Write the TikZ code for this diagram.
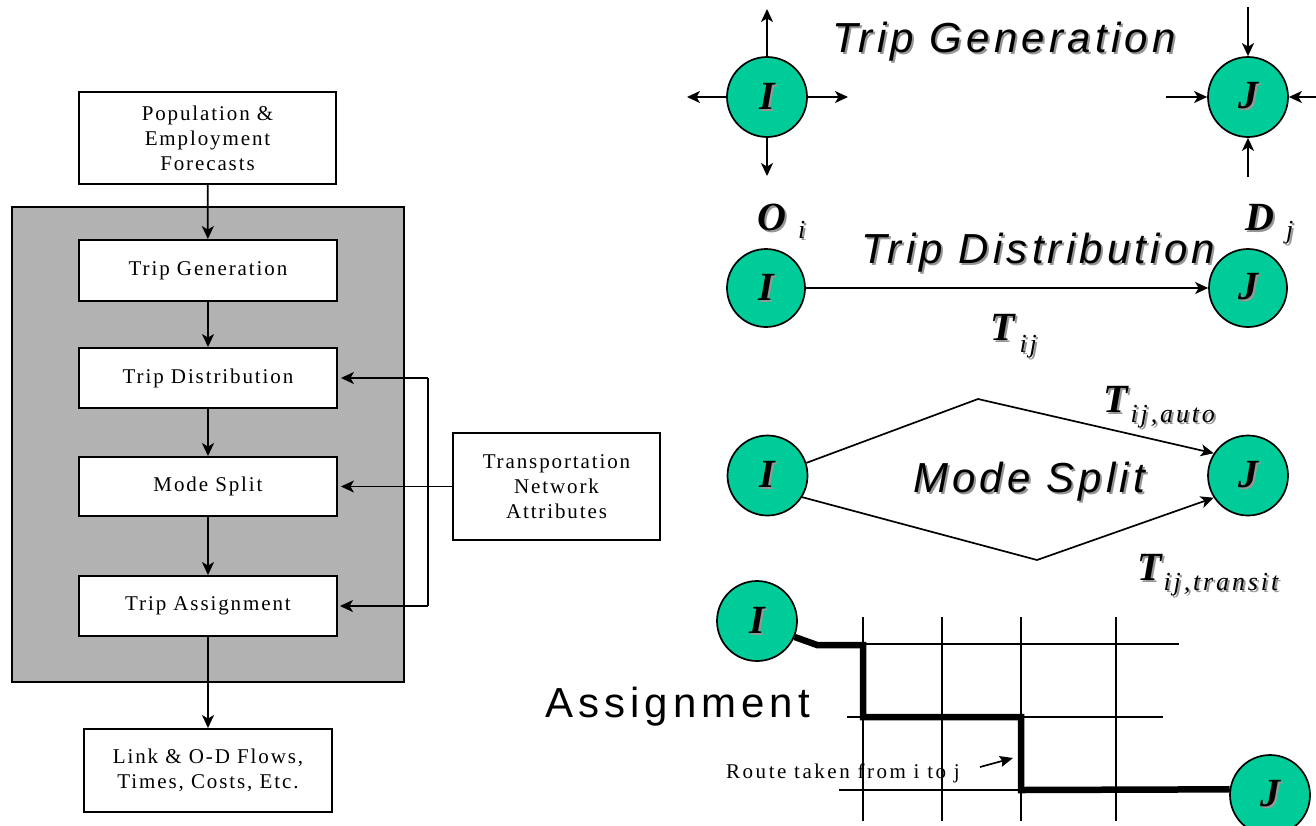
\documentclass[tikz,border=0pt]{standalone}
\usepackage{fontspec}
\setmainfont{Liberation Serif}
\usetikzlibrary{arrows.meta}
\newfontfamily\boxfont[LetterSpace=9]{Liberation Serif}
\newfontfamily\routefont[LetterSpace=12]{Liberation Serif}
\newfontfamily\ttlfont[LetterSpace=10]{Liberation Sans}
\newfontfamily\asgfont[LetterSpace=12]{Liberation Sans}
\newfontfamily\subfont[LetterSpace=11]{Liberation Serif}
\definecolor{zonegreen}{RGB}{0,204,153}
\definecolor{panelgray}{RGB}{178,178,178}
\definecolor{shadegray}{RGB}{150,150,150}
\newcommand{\shd}[1]{\makebox[0pt][l]{\hspace{2pt}\raisebox{-2pt}{\textcolor{shadegray}{#1}}}{#1}}
\newcommand{\bigit}[1]{\shd{\fontsize{40}{44}\selectfont\bfseries\itshape #1}}
\newcommand{\smit}[1]{\shd{\subfont\fontsize{26}{28}\selectfont\itshape #1}}
\begin{document}
\begin{tikzpicture}[x=1pt,y=-1pt,
  stepbox/.style={draw, line width=1.9pt, fill=white, align=center, inner sep=0pt,
    font=\boxfont\fontsize{21}{25}\selectfont},
  arr/.style={line width=1.7pt, -{Stealth[length=13pt,width=12pt,inset=3.5pt]}},
  thin/.style={line width=1.6pt},
  ctr/.style={circle, draw, line width=1.7pt, fill=zonegreen, minimum size=80pt, inner sep=0pt},
  ttl/.style={anchor=base west, inner sep=0pt, font=\ttlfont\itshape\fontsize{42}{46}\selectfont},
  lbl/.style={anchor=base west, inner sep=0pt},
  route/.style={line width=6.5pt, line join=miter}]
\useasboundingbox (0,0) rectangle (1316,825);
\clip (0,0) rectangle (1316,825);

% ---------------- left flowchart ----------------
\node[draw, line width=1.9pt, fill=panelgray, minimum width=392pt, minimum height=475pt, inner sep=0pt] (frame) at (208,444.5) {};
\node[stepbox, minimum width=257pt, minimum height=92pt] (pop) at (207.5,138) {Population \&\\Employment\\Forecasts};
\node[stepbox, minimum width=258pt, minimum height=61pt] (gen) at (208,270.5) {Trip Generation};
\node[stepbox, minimum width=258pt, minimum height=60pt] (dist) at (208,378) {Trip Distribution};
\node[stepbox, minimum width=258pt, minimum height=59pt] (mode) at (208,486.5) {Mode Split};
\node[stepbox, minimum width=258pt, minimum height=60pt] (assign) at (208,606) {Trip Assignment};
\node[stepbox, minimum width=248pt, minimum height=83pt] (link) at (208,770.5) {Link \& O-D Flows,\\Times, Costs, Etc.};
\node[stepbox, minimum width=207pt, minimum height=107pt] (net) at (556.5,486.5) {Transportation\\Network\\Attributes};

\draw[arr] (pop) -- (gen);
\draw[arr] (gen) -- (dist);
\draw[arr] (dist) -- (mode);
\draw[arr] (mode) -- (assign);
\draw[arr] (assign) -- (link);
\draw[arr, shorten >=3pt] (net) -- (mode);
\coordinate (bus) at (428,486.5);
\draw[thin] (bus |- dist) -- (bus |- assign);
\draw[arr, shorten >=3pt] (bus |- dist) -- (dist.east);
\draw[arr, shorten >=2pt] (bus |- assign) -- (assign.east);

% ---------------- Trip Generation ----------------
\node[ctr] (gI) at (767,97) {\bigit{I}};
\node[ctr] (gJ) at (1248,97) {\bigit{J}};
\coordinate (gIu) at (767,9);
\coordinate (gIl) at (687,97);
\coordinate (gIr) at (848,97);
\coordinate (gId) at (767,176);
\draw[arr] (gI) -- (gIu);
\draw[arr] (gI) -- (gIl);
\draw[arr] (gI) -- (gIr);
\draw[arr] (gI) -- (gId);
\coordinate (gJu) at (1248,7);
\coordinate (gJl) at (1166,97);
\coordinate (gJr) at (1330,97);
\coordinate (gJd) at (1248,177);
\draw[arr] (gJu) -- (gJ);
\draw[arr] (gJl) -- (gJ);
\draw[arr] (gJr) -- (gJ);
\draw[arr] (gJd) -- (gJ);
\node[ttl] (tgen) at (832,52) {\shd{Trip Generation}};

% ---------------- Trip Distribution ----------------
\node[ctr, minimum size=78pt] (dI) at (766,288) {\bigit{I}};
\node[ctr, minimum size=78pt] (dJ) at (1248,288) {\bigit{J}};
\draw[arr] (dI) -- (dJ);
\node[ttl] (tdist) at (861,263) {\shd{Trip Distribution}};
\node[lbl] (Oi) at (757,230) {\bigit{O}\hspace{12pt}\raisebox{-8pt}{\smit{i}}};
\node[lbl] (Dj) at (1245,230) {\bigit{D}\hspace{12pt}\raisebox{-8pt}{\smit{j}}};
\node[lbl] (Tij) at (990,340) {\bigit{T}\hspace{5pt}\raisebox{-12pt}{\smit{ij}}};

% ---------------- Mode Split ----------------
\node[ctr] (mI) at (767.5,475.5) {\bigit{I}};
\node[ctr] (mJ) at (1248,475.5) {\bigit{J}};
\coordinate (mup) at (978,399);
\coordinate (mlo) at (1037,560);
\draw[arr, line join=miter] (mI.18) -- (mup) -- (mJ.147);
\draw[arr, line join=miter] (mI.-32) -- (mlo) -- (mJ.213);
\node[ttl] (tmode) at (913,492) {\shd{Mode Split}};
\node[lbl] (Tauto) at (1103,412) {\bigit{T}\hspace{3pt}\raisebox{-10pt}{\smit{ij,auto}}};
\node[lbl] (Ttran) at (1137,580) {\bigit{T}\hspace{2pt}\raisebox{-10pt}{\smit{ij,transit}}};

% ---------------- Assignment ----------------
\foreach \gx in {863,942,1021,1116} {\draw[thin] (\gx,617) -- (\gx,821);}
\coordinate (h1a) at (863,644); \coordinate (h1b) at (1179,644);
\coordinate (h2a) at (847,717); \coordinate (h2b) at (1163,717);
\coordinate (h3a) at (839,790); \coordinate (h3b) at (1232,790);
\draw[thin] (h1a) -- (h1b);
\draw[thin] (h2a) -- (h2b);
\draw[thin] (h3a) -- (h3b);
\node[ctr] (aI) at (757,621) {\bigit{I}};
\node[ctr] (aJ) at (1270,795) {\bigit{J}};
\coordinate (r1) at (817,645);
\coordinate (r2) at (863,645);
\coordinate (r3) at (863,717);
\coordinate (r4) at (1021,717);
\coordinate (r5) at (1021,790);
\draw[route] (aI.-23) -- (r1) -- (r2) -- (r3) -- (r4) -- (r5) -- (aJ.172);
\node[lbl, font=\asgfont\fontsize{42}{46}\selectfont] (asg) at (545,717) {Assignment};
\node[lbl, font=\routefont\fontsize{21}{25}\selectfont] (rt) at (726,778) {Route taken from i to j};
\coordinate (p1) at (980,767);
\coordinate (p2) at (1013,758);
\draw[line width=1.7pt, -{Stealth[length=13pt,width=11pt,inset=2pt]}] (p1) -- (p2);
\end{tikzpicture}
\end{document}
